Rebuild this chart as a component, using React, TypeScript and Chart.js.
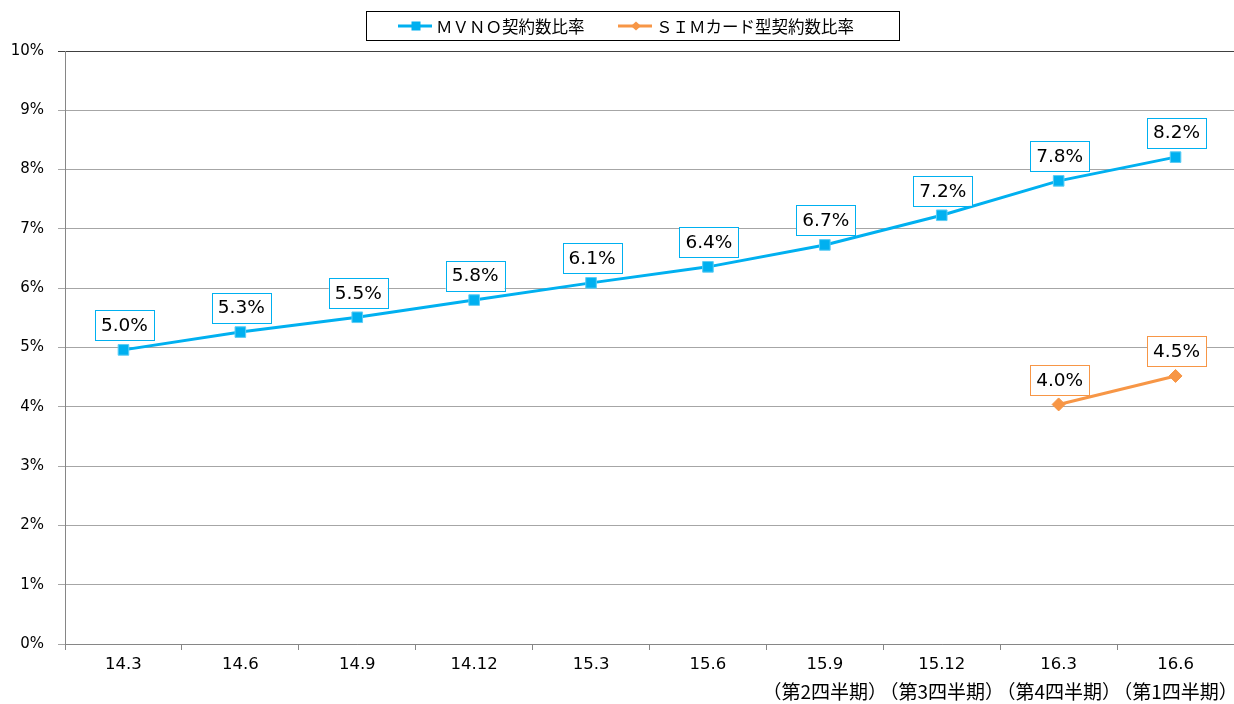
import React, { useEffect, useRef } from "react";
import { Chart, registerables } from "chart.js";

Chart.register(...registerables);

const categories: string[] = ["14.3", "14.6", "14.9", "14.12", "15.3", "15.6", "15.9", "15.12", "16.3", "16.6"];
const quarterLabels: string[] = ["", "", "", "", "", "", "（第2四半期）", "（第3四半期）", "（第4四半期）", "（第1四半期）"];

const mvnoValues: (number | null)[] = [4.96, 5.26, 5.51, 5.8, 6.09, 6.36, 6.73, 7.23, 7.81, 8.21];
const simValues: (number | null)[] = [null, null, null, null, null, null, null, null, 4.04, 4.52];

const seriesNames = ["ＭＶＮＯ契約数比率", "ＳＩＭカード型契約数比率"];
const yTicks = { min: 0, max: 10, step: 1 };

const FONT = "'DejaVu Sans', Verdana, 'Noto Sans CJK JP', sans-serif";
const JP_FONT = "'Noto Sans CJK JP', 'DejaVu Sans', sans-serif";
const BLUE = "#00b0f0";
const ORANGE = "#f79646";

const labelPlugin = {
  id: "boxLabels",
  afterDatasetsDraw(chart: any) {
    const ctx = chart.ctx;
    ctx.save();
    ctx.font = `18.5px ${FONT}`;
    ctx.textAlign = "center";
    ctx.textBaseline = "middle";
    chart.data.datasets.forEach((ds: any, i: number) => {
      const meta = chart.getDatasetMeta(i);
      meta.data.forEach((pt: any, j: number) => {
        const v = ds.data[j];
        if (v === null || v === undefined) return;
        const text = v.toFixed(1) + "%";
        const w = ctx.measureText(text).width + 12;
        const h = 30;
        const cx = pt.x + 1;
        const cy = pt.y - 24.5;
        ctx.fillStyle = "#ffffff";
        ctx.fillRect(cx - w / 2, cy - h / 2, w, h);
        ctx.strokeStyle = ds.borderColor;
        ctx.lineWidth = 1;
        ctx.strokeRect(Math.round(cx - w / 2) + 0.5, Math.round(cy - h / 2) + 0.5, Math.round(w), h);
        ctx.fillStyle = "#000000";
        ctx.fillText(text, cx, cy + 1);
      });
    });
    ctx.restore();
  },
};

const legendPlugin = {
  id: "boxLegend",
  afterDraw(chart: any) {
    const ctx = chart.ctx;
    ctx.save();
    const boxLeft = 366.5;
    const boxTop = 11.5;
    const boxW = 533;
    const boxH = 29;
    ctx.fillStyle = "#ffffff";
    ctx.fillRect(boxLeft, boxTop, boxW, boxH);
    ctx.strokeStyle = "#000000";
    ctx.lineWidth = 1;
    ctx.strokeRect(boxLeft, boxTop, boxW, boxH);
    const cy = boxTop + boxH / 2;
    const items = [
      { x: 398, color: BLUE, style: "rect", name: seriesNames[0] },
      { x: 618, color: ORANGE, style: "diamond", name: seriesNames[1] },
    ];
    ctx.font = `16.5px ${JP_FONT}`;
    ctx.textBaseline = "middle";
    ctx.textAlign = "left";
    items.forEach((it) => {
      ctx.strokeStyle = it.color;
      ctx.lineWidth = 3;
      ctx.beginPath();
      ctx.moveTo(it.x, cy);
      ctx.lineTo(it.x + 34, cy);
      ctx.stroke();
      ctx.fillStyle = it.color;
      const mx = it.x + 18;
      if (it.style === "rect") {
        ctx.fillRect(mx - 4.5, cy - 4.5, 9, 9);
      } else {
        ctx.beginPath();
        ctx.moveTo(mx - 5, cy);
        ctx.lineTo(mx, cy - 4.5);
        ctx.lineTo(mx + 5, cy);
        ctx.lineTo(mx, cy + 4.5);
        ctx.closePath();
        ctx.fill();
      }
      ctx.fillStyle = "#000000";
      ctx.fillText(it.name, it.x + 38, cy + 1);
    });
    ctx.restore();
  },
};

export default function App() {
  const ref = useRef<HTMLCanvasElement | null>(null);
  useEffect(() => {
    if (!ref.current) return;
    const chart = new Chart(ref.current, {
      type: "line",
      data: {
        labels: categories,
        datasets: [
          {
            label: seriesNames[0],
            data: mvnoValues,
            borderColor: BLUE,
            backgroundColor: BLUE,
            borderWidth: 3,
            pointStyle: "rect",
            pointRadius: 7.5,
            pointBackgroundColor: BLUE,
            pointBorderColor: "#5ccdf5",
            pointBorderWidth: 1,
            tension: 0,
          },
          {
            label: seriesNames[1],
            data: simValues,
            borderColor: ORANGE,
            backgroundColor: ORANGE,
            borderWidth: 3,
            pointStyle: "rectRot",
            pointRadius: 6.5,
            pointBackgroundColor: ORANGE,
            pointBorderColor: ORANGE,
            pointBorderWidth: 1,
            tension: 0,
          },
        ],
      },
      options: {
        responsive: false,
        animation: false,
        layout: { autoPadding: false, padding: { top: 51, left: 0, right: 0, bottom: 0 } },
        plugins: {
          legend: { display: false },
          tooltip: { enabled: false },
        },
        scales: {
          x: {
            type: "category",
            position: "bottom",
            weight: 0,
            offset: true,
            grid: {
              offset: true,
              drawOnChartArea: false,
              drawTicks: true,
              tickLength: 6,
              color: "#868686",
              lineWidth: 1,
            },
            border: { color: "#868686", width: 1 },
            ticks: {
              autoSkip: false,
              maxRotation: 0,
              minRotation: 0,
              padding: 5,
              color: "#000000",
              font: { family: FONT, size: 16.5, lineHeight: 1.2 },
            },
            afterFit(scale: any) {
              scale.height = 36;
              scale.paddingLeft = 0;
              scale.paddingRight = 0;
            },
          },
          x2: {
            type: "category",
            position: "bottom",
            weight: 1,
            offset: true,
            labels: quarterLabels,
            grid: { display: false, drawTicks: false },
            border: { display: false },
            ticks: {
              autoSkip: false,
              maxRotation: 0,
              minRotation: 0,
              padding: 0,
              color: "#000000",
              font: { family: JP_FONT, size: 19, lineHeight: 24 / 19 },
            },
            afterFit(scale: any) {
              scale.height = 24;
              scale.paddingLeft = 0;
              scale.paddingRight = 0;
            },
          },
          y: {
            min: yTicks.min,
            max: yTicks.max,
            grid: {
              color: (c: any) => (c.tick && c.tick.value === yTicks.max ? "#404040" : "#a6a6a6"),
              lineWidth: 1,
              tickLength: 7,
              drawTicks: true,
            },
            border: { color: "#868686", width: 1 },
            ticks: {
              stepSize: yTicks.step,
              padding: 14,
              color: "#000000",
              font: { family: FONT, size: 15 },
              callback: (v: any) => v + "%",
            },
            afterFit(scale: any) {
              scale.width = 65;
            },
          },
        },
      },
      plugins: [labelPlugin, legendPlugin],
    });
    return () => chart.destroy();
  }, []);
  return (
    <div style={{ position: "absolute", left: 0, top: 0, width: 1234, height: 704, background: "#fff" }}>
      <canvas ref={ref} width={1234} height={704} style={{ display: "block" }} />
    </div>
  );
}
